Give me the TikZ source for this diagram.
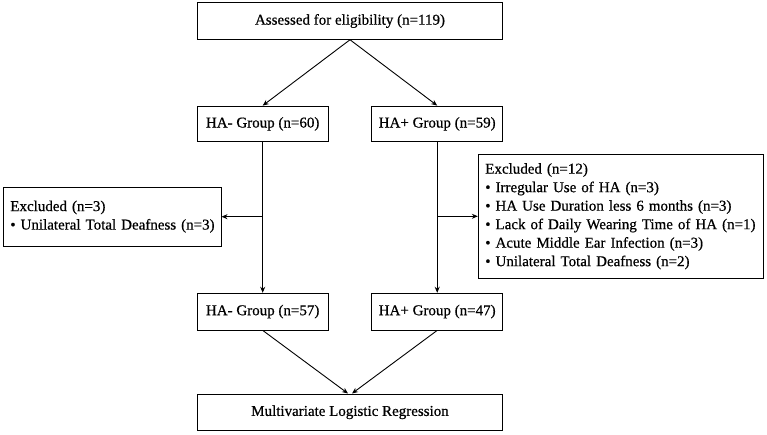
\documentclass[tikz,border=0pt]{standalone}
\usepackage{fontspec}
\setmainfont{Liberation Serif}[FakeBold=0.6]
\usetikzlibrary{arrows.meta}
\begin{document}
\begin{tikzpicture}[x=1pt,y=-1pt,
  box/.style={draw, line width=0.9pt, inner sep=0pt, font=\fontsize{15}{18.5}\selectfont},
  exbox/.style={box, align=left, inner xsep=7pt},
  arr/.style={line width=0.9pt, -{Stealth[length=6pt,width=5pt]}}]
\useasboundingbox (0,0) rectangle (767,435);
\node[box, minimum width=305.4pt, minimum height=36.6pt] (top) at (350,21) {Assessed for eligibility (n=119)};
\node[box, minimum width=131pt, minimum height=35.7pt] (g60) at (262.7,123.9) {HA- Group (n=60)};
\node[box, minimum width=131pt, minimum height=35.7pt] (g59) at (437.2,123.9) {HA+ Group (n=59)};
\node[exbox, minimum width=217.7pt, minimum height=58.7pt, text width=203.7pt] (lex) at (112.2,216.7) {\mbox{Excluded (n=3)}\\ \mbox{• Unilateral Total Deafness (n=3)}};
\node[exbox, minimum width=285pt, minimum height=124pt, text width=271pt] (rex) at (620.8,216.3) {\mbox{Excluded (n=12)}\\ \mbox{• Irregular Use of HA (n=3)}\\ \mbox{• HA Use Duration less 6 months (n=3)}\\ \mbox{• Lack of Daily Wearing Time of HA (n=1)}\\ \mbox{• Acute Middle Ear Infection (n=3)}\\ \mbox{• Unilateral Total Deafness (n=2)}};
\node[box, minimum width=131pt, minimum height=36.7pt] (g57) at (262.7,311.6) {HA- Group (n=57)};
\node[box, minimum width=131pt, minimum height=36.7pt] (g47) at (437.2,311.6) {HA+ Group (n=47)};
\node[box, minimum width=305.4pt, minimum height=36.7pt] (mlr) at (350,412.3) {Multivariate Logistic Regression};
\draw[arr] (top.south) -- (g60.north);
\draw[arr] (top.south) -- (g59.north);
\draw[arr] (g60.south) -- (g57.north);
\draw[arr] (g59.south) -- (g47.north);
\draw[arr] (g60.south |- lex.east) -- (lex.east);
\draw[arr] (g59.south |- rex.west) -- (rex.west);
\draw[arr] (g57.south) -- ([xshift=-2pt]mlr.north);
\draw[arr] (g47.south) -- ([xshift=2pt]mlr.north);
\end{tikzpicture}
\end{document}
